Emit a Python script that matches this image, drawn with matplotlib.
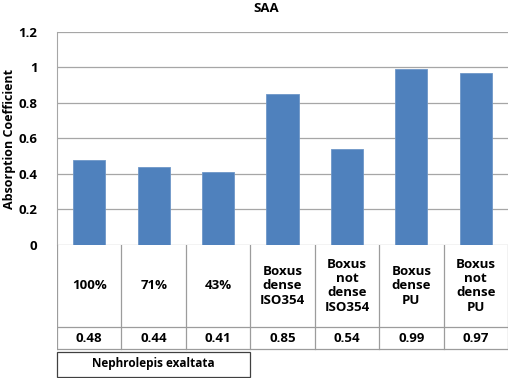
import matplotlib.pyplot as plt

plt.rcParams['font.family'] = ['Open Sans', 'DejaVu Sans']
plt.rcParams['font.weight'] = 'bold'

labels = ['100%', '71%', '43%', 'Boxus\ndense\nISO354', 'Boxus\nnot\ndense\nISO354',
          'Boxus\ndense\nPU', 'Boxus\nnot\ndense\nPU']
values = [0.48, 0.44, 0.41, 0.85, 0.54, 0.99, 0.97]
yticks = [0, 0.2, 0.4, 0.6, 0.8, 1.0, 1.2]
ytick_labels = ['0', '0.2', '0.4', '0.6', '0.8', '1', '1.2']
group_label = 'Nephrolepis exaltata'

W, H = 508, 378
fig = plt.figure(figsize=(W / 100, H / 100), dpi=100)

# main bar axes (pixel layout from the picture)
left, right, top, bottom = 57, 508, 32, 244.5
ax = fig.add_axes([left / W, 1 - bottom / H, (right - left) / W, (bottom - top) / H])
x = range(len(values))
ax.bar(x, values, width=0.5, color='#4F81BD', edgecolor='#6E97C8', linewidth=0.6, zorder=3)
ax.set_xlim(-0.5, len(values) - 0.5)
ax.set_ylim(0, 1.2)
ax.set_yticks(yticks)
ax.set_yticklabels(ytick_labels, fontsize=9.5, fontweight='bold')
ax.set_xticks([])
ax.tick_params(axis='y', length=0, pad=14)
ax.grid(axis='y', color='#A6A6A6', linewidth=0.9, zorder=0)
for s in ['top', 'right', 'bottom']:
    ax.spines[s].set_visible(False)
ax.spines['left'].set_color('#A6A6A6')
fig.text(10 / W, 1 - 139 / H, 'Absorption Coefficient', rotation=90, ha='center', va='center',
         fontsize=9, fontweight='bold')
fig.text(266 / W, 1 - 9 / H, 'SAA', ha='center', va='center', fontsize=9.5, fontweight='bold')

# table below the chart
tb = fig.add_axes([left / W, 0, (right - left) / W, (H - bottom) / H])
tb.set_xlim(-0.5, len(values) - 0.5)
tb.set_ylim(H, bottom)
tb.axis('off')
row1, row2 = 327, 349
grey = '#9C9C9C'
tb.plot([-0.5, len(values) - 0.5], [row1, row1], color=grey, lw=0.9)
tb.plot([-0.5, len(values) - 0.5], [row2, row2], color=grey, lw=0.9)
for i in range(len(values) + 1):
    tb.plot([i - 0.5, i - 0.5], [bottom, row2], color=grey, lw=0.9)
for i, (lab, v) in enumerate(zip(labels, values)):
    tb.text(i, (bottom + row1) / 2, lab, ha='center', va='center', fontsize=9.5,
            fontweight='bold', linespacing=1.15)
    tb.text(i, (row1 + row2) / 2, f'{v:.2f}', ha='center', va='center', fontsize=9.5,
            fontweight='bold')
tb.add_patch(plt.Rectangle((-0.5, 352), 3, 24.5, fill=False, edgecolor='#404040', lw=0.9,
                           clip_on=False))
tb.text(1.0, 364, group_label, ha='center', va='center', fontsize=8.5, fontweight='bold')

fig.savefig('out.png', dpi=100)
